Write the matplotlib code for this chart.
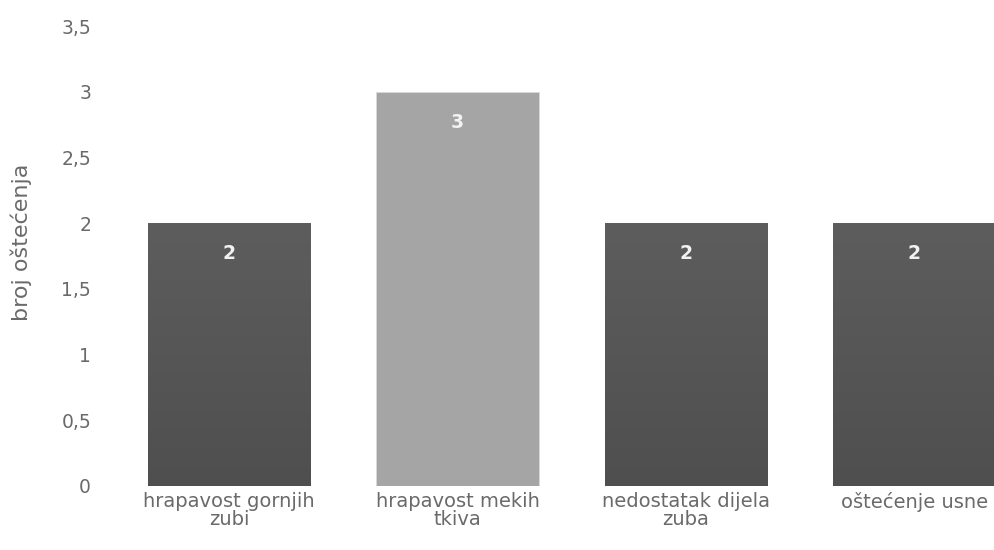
import matplotlib
matplotlib.use("Agg")
import matplotlib.pyplot as plt
import numpy as np
from matplotlib.colors import LinearSegmentedColormap

categories = ["hrapavost gornjih\nzubi", "hrapavost mekih\ntkiva", "nedostatak dijela\nzuba", "oštećenje usne"]
values = [2, 3, 2, 2]
bar_colors = ["#555555", "#a5a5a5", "#555555", "#555555"]
yticks = [0, 0.5, 1, 1.5, 2, 2.5, 3, 3.5]
ytick_labels = ["0", "0,5", "1", "1,5", "2", "2,5", "3", "3,5"]
ylabel = "broj oštećenja"

plt.rcParams["font.family"] = ["DejaVu Sans"]
text_color = "#6a6a6a"

fig = plt.figure(figsize=(9.94, 5.5), dpi=100)
ax = fig.add_axes([0.1154, 0.1164, 0.9195, 0.836])

x = np.arange(len(categories))
bars = ax.bar(x, values, width=0.71, color=bar_colors, edgecolor="#d9d9d9", linewidth=0.6, zorder=2)

# soft vertical gradient on the dark bars
grad = LinearSegmentedColormap.from_list("g", ["#4f4f4f", "#5d5d5d"])
column = np.linspace(0, 1, 256).reshape(-1, 1)
for bar, col in zip(bars, bar_colors):
    if col != "#555555":
        continue
    x0, w, h = bar.get_x(), bar.get_width(), bar.get_height()
    img = ax.imshow(column, extent=[x0, x0 + w, 0, h], origin="lower", cmap=grad,
                    aspect="auto", zorder=2.5)
    img.set_clip_path(bar)

for bar, v in zip(bars, values):
    ax.annotate(str(v), (bar.get_x() + bar.get_width() / 2, v), xytext=(0, -22),
                textcoords="offset points", ha="center", va="center",
                color="#f2f2f2", fontsize=13.5, fontweight="bold", zorder=3)

ax.set_xlim(-0.5, len(categories) - 0.5)
ax.set_ylim(0, 3.5)
ax.set_xticks(x)
ax.set_xticklabels(categories, color=text_color, fontsize=14, linespacing=0.98)
ax.set_yticks(yticks)
ax.set_yticklabels(ytick_labels, color=text_color, fontsize=13.5)
ax.tick_params(axis="both", length=0)
ax.tick_params(axis="y", pad=17)
ax.tick_params(axis="x", pad=4)
for s in ax.spines.values():
    s.set_visible(False)
ax.set_ylabel(ylabel, color=text_color, fontsize=16)
ax.yaxis.set_label_coords(-0.09, 0.53)

fig.savefig("out.png", dpi=100)
